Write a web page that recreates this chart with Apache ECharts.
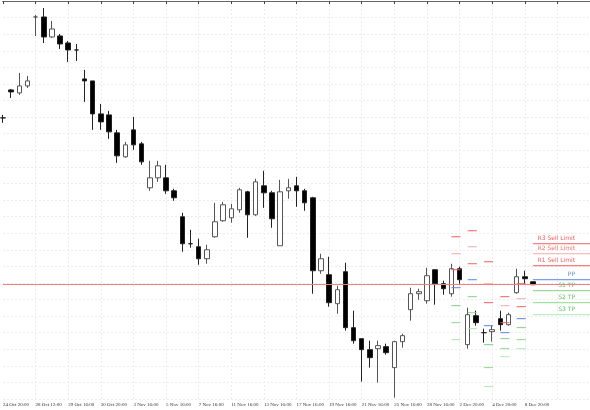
<!DOCTYPE html>
<html>
<head>
<meta charset="utf-8">
<script src="https://cdn.jsdelivr.net/npm/echarts@6/dist/echarts.min.js"></script>
<style>
  html, body { margin: 0; padding: 0; background: #fff; }
  #chart { width: 590px; height: 410px; }
</style>
</head>
<body>
<div id="chart"></div>
<script>
// candle values, in chart units (axis is inverted: smaller = higher)
// each row: open, close, high, low
var candles = [
  [117, 117, 114, 122], [89, 91, 88, 97], [92, 85, 72, 94], [85, 80, 75, 87],
  [16, 16, 14, 35], [16, 36, 7, 42], [36, 28, 20, 37], [35, 43, 33, 48],
  [42, 49, 40, 61], [49, 49, 43, 60], [78, 80, 69, 101], [80, 113, 80, 129],
  [113, 121, 103, 129], [114, 131, 110, 138], [132, 155, 129, 162], [156, 144, 141, 157],
  [129, 144, 116, 149], [143, 161, 141, 164], [187, 177, 160, 190], [177, 165, 160, 181],
  [177, 190, 164, 193], [190, 197, 188, 200], [216, 243, 212, 251], [243, 243, 229, 247],
  [246, 258, 238, 264], [258, 249, 244, 263], [236, 221, 202, 237], [220, 204, 201, 221],
  [217, 208, 203, 222], [209, 189, 187, 212], [191, 214, 190, 237], [214, 181, 178, 215],
  [185, 192, 170, 207], [192, 218, 190, 227], [245, 191, 179, 245], [190, 187, 178, 198],
  [185, 190, 176, 206], [190, 202, 188, 210], [197, 270, 196, 293], [270, 258, 253, 273],
  [274, 302, 256, 306], [303, 289, 285, 313], [271, 327, 262, 330], [327, 340, 310, 343],
  [338, 349, 338, 381], [349, 357, 340, 367], [348, 345, 340, 382], [346, 352, 343, 354],
  [367, 341, 340, 397], [341, 335, 333, 347], [309, 293, 287, 320], [293, 291, 288, 299],
  [300, 275, 267, 303], [269, 283, 269, 304], [283, 288, 280, 294], [293, 268, 263, 296],
  [268, 279, 266, 283], [344, 314, 307, 348], [315, 322, 310, 325], [332, 332, 328, 342],
  [331, 329, 325, 341], [318, 324, 310, 330], [324, 314, 312, 325], [292, 276, 268, 293],
  [276, 278, 270, 283], [281, 284, 281, 284]
];
var extraSlots = 7;
var tickLabels = ['24 Oct 20:00', '28 Oct 12:00', '29 Oct 16:00', '30 Oct 20:00', '3 Nov 16:00',
  '5 Nov 16:00', '7 Nov 16:00', '11 Nov 16:00', '13 Nov 16:00', '17 Nov 16:00', '19 Nov 16:00',
  '21 Nov 16:00', '25 Nov 16:00', '28 Nov 16:00', '2 Dec 20:00', '4 Dec 20:00', '8 Dec 20:00'];
var priceLine = 284;

// pivot levels per period: first slot, last slot, then R3 R2 R1 PP S1 S2 S3
var levelNames = ['R3 Sell Limit', 'R2 Sell Limit', 'R1 Sell Limit', 'PP', 'S1 TP', 'S2 TP', 'S3 TP'];
var levelColors = ['#f06060', '#f8aaaa', '#f06060', '#5a86e0', '#7fd07f', '#8ed88e', '#b4e8b4'];
var pivots = [
  [55, 56, 236, 253, 269, 287, 305, 322, 339],
  [57, 58, 230, 246, 263, 279, 296, 312, 328],
  [59, 60, 261, 283, 302, 325, 344, 367, 386],
  [61, 62, 296, 305, 322, 332, 338, 348, 356],
  [63, 64, 283, 298, 306, 318, 327, 339, 348],
  [65, 72, 243, 253, 265, 279, 290, 302, 314]
];

var total = candles.length + extraSlots;
var categories = [];
for (var i = 0; i < total; i++) {
  categories.push(i % 4 === 0 && tickLabels[i / 4] ? tickLabels[i / 4] : '');
}
var candleData = candles.map(function (c) {
  return [c[0], c[1], c[2], c[3]];
});
var pivotData = [];
pivots.forEach(function (p, g) {
  for (var k = 0; k < 7; k++) {
    pivotData.push([p[0], p[1], p[2 + k], k, g === pivots.length - 1 ? 1 : 0]);
  }
});

var chart = echarts.init(document.getElementById('chart'));
chart.setOption({
  animation: false,
  grid: { left: 1, right: 0, top: 1, bottom: 11 },
  xAxis: [{
    type: 'category',
    data: categories,
    boundaryGap: false,
    axisLine: { lineStyle: { color: '#444' } },
    axisTick: { length: 3, interval: function (i) { return i % 4 === 0; }, lineStyle: { color: '#444' } },
    axisLabel: {
      interval: function (i, v) { return v !== ''; },
      showMinLabel: true, hideOverlap: false,
      fontSize: 5, color: '#333', align: 'left', margin: 3, fontFamily: 'Liberation Sans Narrow'
    },
    splitLine: {
      show: true, interval: function (i) { return i % 4 === 0 && i > 0; },
      lineStyle: { color: '#ececec', type: [2, 2] }
    }
  }, {
    type: 'category', data: categories, position: 'top', boundaryGap: false,
    axisLine: { lineStyle: { color: '#666' } }, axisTick: { show: false }, axisLabel: { show: false }
  }],
  yAxis: {
    type: 'value', inverse: true, min: 0, max: 398.4, interval: 16.6,
    axisLine: { show: false }, axisTick: { show: false }, axisLabel: { show: false },
    splitLine: { lineStyle: { color: '#ececec', type: [2, 2] } }
  },
  series: [{
    type: 'candlestick',
    data: candleData,
    barWidth: 5,
    itemStyle: {
      color: '#000', color0: '#fff',
      borderColor: '#222', borderColor0: '#555', borderWidth: 1
    },
    markLine: {
      silent: true, symbol: 'none', label: { show: false },
      lineStyle: { color: '#f08080', width: 1, type: 'solid' },
      data: [{ yAxis: priceLine }]
    }
  }, {
    type: 'custom',
    data: pivotData,
    z: 3,
    renderItem: function (params, api) {
      var a = api.coord([api.value(0), api.value(2)]);
      var b = api.coord([api.value(1), api.value(2)]);
      var k = api.value(3);
      var children = [{
        type: 'line',
        shape: { x1: a[0], y1: a[1], x2: b[0] + 1, y2: b[1] },
        style: { stroke: levelColors[k], lineWidth: 1 }
      }];
      if (api.value(4) === 1) {
        children.push({
          type: 'text',
          style: {
            text: levelNames[k], x: 575, y: a[1] - 2,
            fill: levelColors[k] === '#f8aaaa' ? '#f07070' : (k > 3 ? '#5cbf5c' : levelColors[k]),
            fontSize: 6, fontFamily: 'DejaVu Sans', align: 'right', verticalAlign: 'bottom'
          }
        });
      }
      return { type: 'group', children: children };
    }
  }]
});
</script>
</body>
</html>
